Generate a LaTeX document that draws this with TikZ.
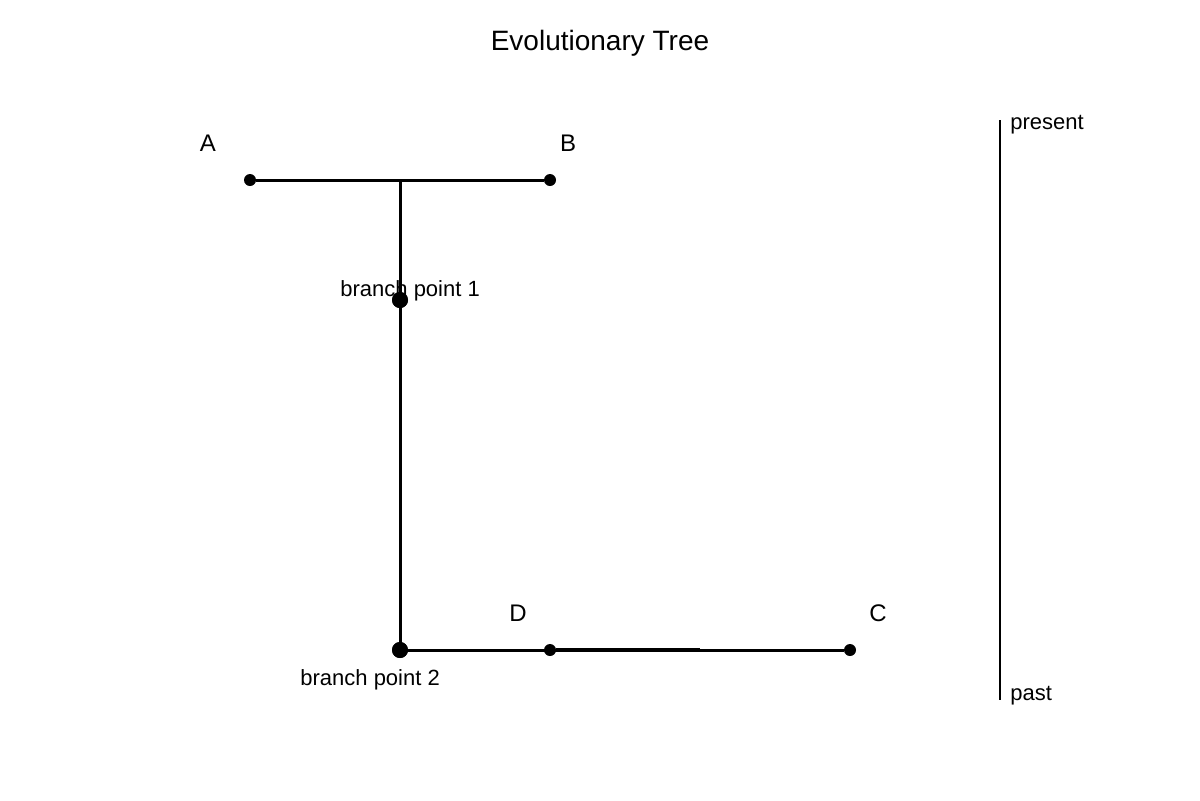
\documentclass[tikz,border=0pt]{standalone}
\usepackage{fontspec}
\setmainfont{Liberation Sans}
\begin{document}
\begin{tikzpicture}[x=0.5pt,y=-0.5pt,
  branch/.style={line width=1.5pt},
  tip/.style={circle,fill=black,inner sep=0pt,minimum size=6pt},
  fork/.style={circle,fill=black,inner sep=0pt,minimum size=8pt},
  taxon/.style={font=\fontsize{12}{14}\selectfont},
  label/.style={font=\fontsize{11}{13}\selectfont,inner sep=0pt}]
\useasboundingbox (0,0) rectangle (1200,800);
\node[font=\fontsize{14}{16}\selectfont] (title) at (600,43) {Evolutionary Tree};

%tips and forks
\node[tip] (a) at (250,180) {};
\node[tip] (b) at (550,180) {};
\coordinate (top) at (400,180);
\node[fork] (bp1) at (400,300) {};
\node[fork] (bp2) at (400,650) {};
\node[tip] (d) at (550,650) {};
\node[tip] (c) at (850,650) {};
\coordinate (mid) at (700,650);

\draw[branch] (a) -- (b);
\draw[branch] (top) -- (bp2.center);
\draw[branch] (bp2.center) -- (c);
\draw[line width=1.8pt] (d) -- (mid);

%names
\node[taxon] at (208,143) {A};
\node[taxon] at (568,143) {B};
\node[taxon] at (518,613) {D};
\node[taxon] at (878,613) {C};
\node[label,anchor=west] at (340,291) {branch point 1};
\node[label,anchor=west] at (300,680) {branch point 2};

%time axis
\coordinate (now) at (1000,120);
\coordinate (then) at (1000,700);
\draw[line width=1pt] (now) -- (then);
\node[label,anchor=west] at (1010,125) {present};
\node[label,anchor=west] at (1010,696) {past};

%Josh: forks drawn on top
\node[fork] at (bp1) {};
\node[fork] at (bp2) {};
\end{tikzpicture}
\end{document}
